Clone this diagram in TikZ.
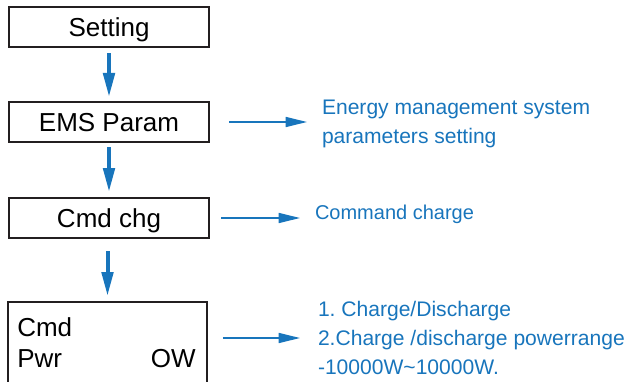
\documentclass[tikz,border=0pt]{standalone}
\usepackage{fontspec}
\setmainfont{Liberation Sans}
\usetikzlibrary{arrows.meta,positioning}
\frenchspacing

\definecolor{emsblue}{RGB}{24,117,188}
\definecolor{menuline}{RGB}{35,31,32}

\tikzset{
  menu/.style={draw=menuline, line width=1.5pt, outer sep=0, inner sep=0, minimum width=150pt, minimum height=30pt, text height=14pt, text depth=0pt, font=\fontsize{19.5}{23}\selectfont},
  note/.style={anchor=west, outer sep=0, inner sep=0, align=left, text=emsblue, font=\fontsize{15.8}{21.5}\selectfont},
  down/.style={draw=emsblue, line width=3pt, -{Triangle[length=18pt, width=8.5pt]}},
  right/.style={draw=emsblue, line width=1.1pt, -{Triangle[length=16pt, width=7.5pt]}}
}

\begin{document}
\begin{tikzpicture}[x=0.75pt, y=-0.75pt]
        \useasboundingbox (0,0) rectangle (630,381);

        \node [menu] (setting) at (109,27.5) {Setting};
        \node [menu] (ems) at (109,122) {EMS Param};
        \node [menu] (cmdchg) at (109,218) {Cmd chg};
        \node [menu, anchor=north, minimum width=149pt, minimum height=75pt] (cmdpwr) at (107.5,302) {};

        \node [anchor=base west, inner sep=0, font=\fontsize{19.5}{23}\selectfont] (cmdtxt) at (17,336) {Cmd};
        \node [anchor=base west, inner sep=0, font=\fontsize{19.5}{23}\selectfont] (pwrtxt) at (17,367) {Pwr};
        \node [anchor=base east, inner sep=0, font=\fontsize{19.5}{23}\selectfont] (pwrval) at (196,367) {OW};

        \node [note] (emsnote) at (322,124) {Energy management system\\parameters setting};
        \node [note, font=\fontsize{15}{21}\selectfont] (chgnote) at (315,214) {Command charge};
        \node [note] (pwrnote) at (318,338) {1. Charge/Discharge\\2.Charge /discharge powerrange\\-10000W\textasciitilde10000W.};

        % menu flow
        \draw [down, shorten <=4.5pt, shorten >=3.75pt] (setting.south) -- (ems.north);
        \draw [down, shorten <=3.75pt, shorten >=4.5pt] (ems.south) -- (cmdchg.north);
        \draw [down, shorten <=9.75pt, shorten >=4.5pt] (cmdpwr.north |- cmdchg.south) -- (cmdpwr.north);

        % explanations
        \draw [right, shorten <=15pt, shorten >=11.25pt] (ems.east) -- (ems.east -| emsnote.west);
        \draw [right, shorten <=9pt, shorten >=11.25pt] (cmdchg.east) -- (cmdchg.east -| chgnote.west);
        \draw [right, shorten <=12pt, shorten >=13.5pt] (cmdpwr.east |- pwrnote.west) -- (pwrnote.west);
\end{tikzpicture}
\end{document}
